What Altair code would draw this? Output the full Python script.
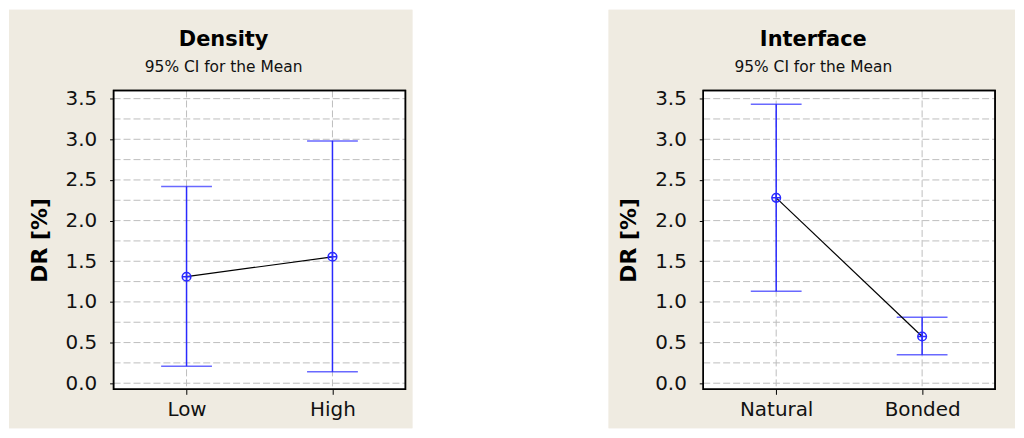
import altair as alt
import pandas as pd

# ---- data ----
density_levels = ["Low", "High"]
density_mean = [1.31, 1.555]
density_lower = [0.21, 0.14]
density_upper = [2.42, 2.98]

interface_levels = ["Natural", "Bonded"]
interface_mean = [2.28, 0.575]
interface_lower = [1.13, 0.35]
interface_upper = [3.43, 0.81]

y_ticks = [0.0, 0.5, 1.0, 1.5, 2.0, 2.5, 3.0, 3.5]
grid_vals = [0.0, 0.25, 0.5, 0.75, 1.0, 1.25, 1.5, 1.75, 2.0, 2.25, 2.5, 2.75, 3.0, 3.25, 3.5]

titles = ["Density", "Interface"]
subtitle = "95% CI for the Mean"
y_title = "DR [%]"

W, H = 293, 300
BEIGE = "#efebe1"
BLUE = "#2a2aff"
FONT = "DejaVu Sans"


def panel(levels, mean, lower, upper, title, beige_left, beige_right):
    df = pd.DataFrame({"level": levels, "mean": mean, "lower": lower, "upper": upper})
    gdf = pd.DataFrame({"g": grid_vals})
    cdf = pd.DataFrame({"level": levels})

    xscale = alt.Scale(type="point", padding=0.5, domain=levels)
    xs = alt.X("level:N", sort=levels, scale=xscale,
               axis=alt.Axis(title=None, domain=False, grid=False, ticks=True, tickSize=5,
                             tickColor="#000000", labelFont=FONT, labelFontSize=20,
                             labelColor="#111111", labelPadding=5, labelAngle=0,
                             labelAlign="center", labelBaseline="top", zindex=1))
    ysc = alt.Scale(domain=[-0.075, 3.6], nice=False, zero=False)
    ys = alt.Y("mean:Q", scale=ysc,
               axis=alt.Axis(title=y_title, values=y_ticks, format=".1f", domain=False, grid=False,
                             tickSize=4, tickColor="#000000", labelFont=FONT, labelFontSize=20,
                             labelColor="#111111", labelPadding=13, titleFont=FONT,
                             titleFontSize=22, titleFontWeight="bold", titleColor="#000000",
                             titlePadding=14, zindex=1))

    base = alt.Chart(df)

    beige = base.mark_rect(fill=BEIGE, clip=False).encode(
        x=alt.value(beige_left), x2=alt.value(W + beige_right),
        y=alt.value(-81), y2=alt.value(H + 39))
    white = base.mark_rect(fill="white").encode(
        x=alt.value(0), x2=alt.value(W), y=alt.value(0), y2=alt.value(H))
    hgrid = alt.Chart(gdf).mark_rule(color="#bdbdbd", strokeDash=[7, 3], strokeWidth=1).encode(
        y=alt.Y("g:Q", scale=ysc), x=alt.value(0), x2=alt.value(W))
    vgrid = alt.Chart(cdf).mark_rule(color="#bdbdbd", strokeDash=[7, 3], strokeWidth=1).encode(
        x=alt.X("level:N", sort=levels, scale=xscale),
        y=alt.value(0), y2=alt.value(H))
    bars = base.mark_rule(color=BLUE, strokeWidth=1.5).encode(
        x=xs, y=alt.Y("lower:Q", scale=ysc), y2="upper:Q")
    cap_lo = base.mark_tick(color=BLUE, size=51, thickness=1.5).encode(
        x=xs, y=alt.Y("lower:Q", scale=ysc))
    cap_hi = base.mark_tick(color=BLUE, size=51, thickness=1.5).encode(
        x=xs, y=alt.Y("upper:Q", scale=ysc))
    line = base.mark_line(color="black", strokeWidth=1.2).encode(x=xs, y=ys)
    circ = base.mark_point(shape="circle", size=75, filled=False, color=BLUE,
                           strokeWidth=1.5, opacity=1).encode(x=xs, y=ys)
    cross = base.mark_point(shape="M-1,0H1M0,-1V1", size=75, filled=False, color=BLUE,
                            strokeWidth=1.5, opacity=1).encode(x=xs, y=ys)
    border = base.mark_rect(fill=None, stroke="black", strokeWidth=1.5).encode(
        x=alt.value(0), x2=alt.value(W), y=alt.value(0), y2=alt.value(H))

    return alt.layer(beige, white, hgrid, vgrid, bars, cap_lo, cap_hi, line, circ, cross, border).properties(
        width=W, height=H,
        title=alt.TitleParams(text=title, subtitle=subtitle, font=FONT, fontSize=21,
                              fontWeight="bold", color="#000000", subtitleFont=FONT,
                              subtitleFontSize=15.5, subtitleColor="#111111", subtitlePadding=10,
                              anchor="middle", frame="group", dx=-36, offset=-66))


left = panel(density_levels, density_mean, density_lower, density_upper, titles[0], -105, 7)
right = panel(interface_levels, interface_mean, interface_lower, interface_upper, titles[1], -95, 20)

chart = alt.hconcat(left, right, spacing=299, bounds="flush").configure_view(
    stroke=None).configure(background="white", padding=0)

chart.save("out.html", embed_options={"renderer": "svg", "actions": False})
